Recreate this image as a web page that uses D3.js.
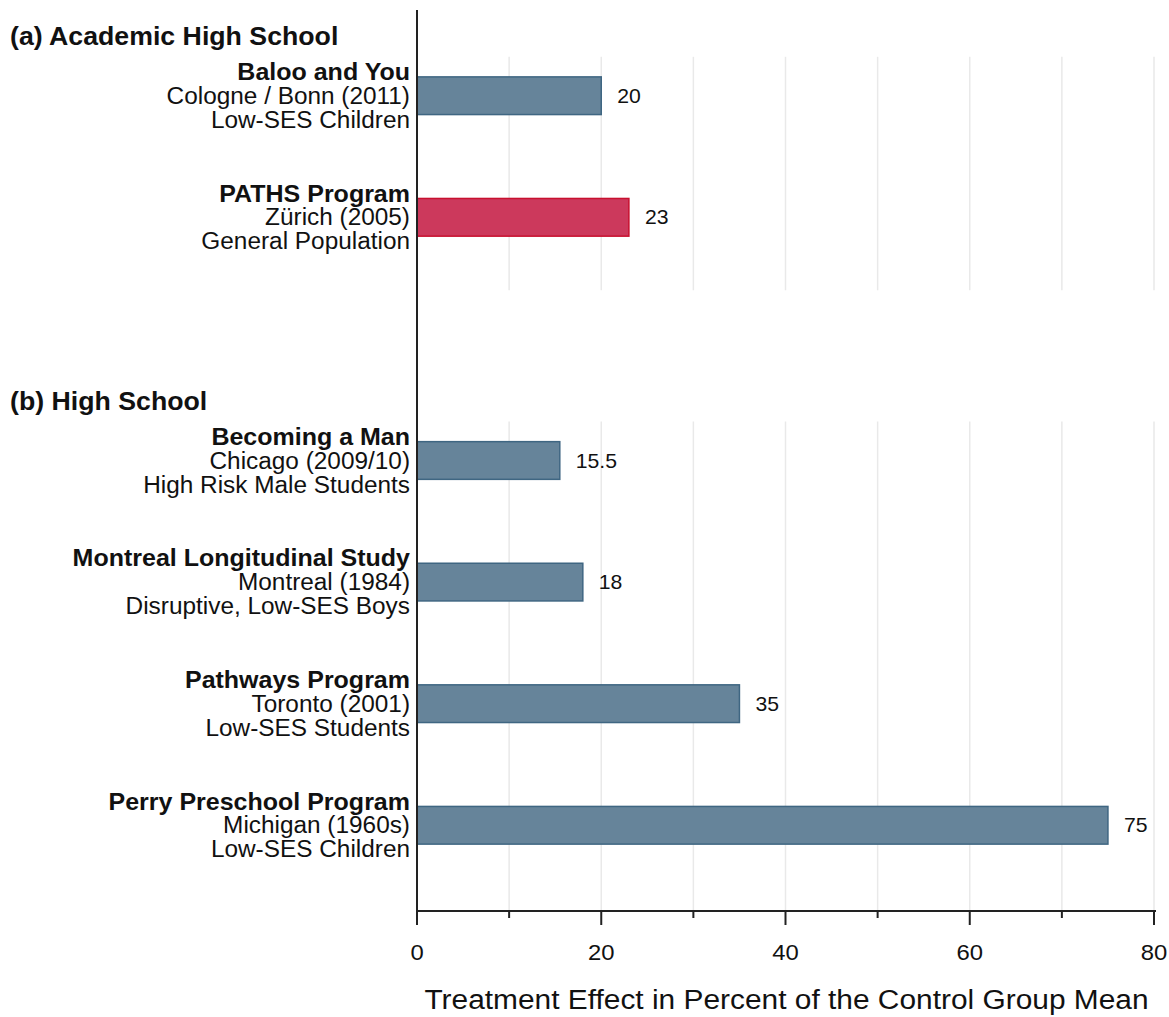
<!DOCTYPE html>
<html>
<head>
<meta charset="utf-8">
<script src="https://cdn.jsdelivr.net/npm/d3@7"></script>
<style>
  body { margin: 0; background: #fff; }
  text { font-family: "Liberation Sans", Arial, sans-serif; fill: #111; }
  .grid { stroke: #e9e9e9; stroke-width: 1.5; }
  .axisline { stroke: #222; stroke-width: 2; }
</style>
</head>
<body>
<div id="chart"></div>
<script>
// chart data
const programs = ["Baloo and You", "PATHS Program", "Becoming a Man",
    "Montreal Longitudinal Study", "Pathways Program", "Perry Preschool Program"]
const places = ["Cologne / Bonn (2011)", "Zürich (2005)", "Chicago (2009/10)",
    "Montreal (1984)", "Toronto (2001)", "Michigan (1960s)"]
const groups = ["Low-SES Children", "General Population", "High Risk Male Students",
    "Disruptive, Low-SES Boys", "Low-SES Students", "Low-SES Children"]
const effects = [20, 23, 15.5, 18, 35, 75]
const sectionOf = ["a", "a", "b", "b", "b", "b"]
const sectionTitles = {a: "(a) Academic High School", b: "(b) High School"}
const majorTicks = [0, 20, 40, 60, 80]
const minorTicks = [10, 30, 50, 70]
const gridTicks = [10, 20, 30, 40, 50, 60, 70, 80]
const highlighted = "PATHS Program"
const xTitle = "Treatment Effect in Percent of the Control Group Mean"

const W = 1169, H = 1017
const SX = 1.06   // the original glyphs are drawn a little wide
const plotTop = 10, plotBottom = 911, plotLeft = 417, plotRight = 1154

let svg = d3.select("#chart").append("svg")
    .attr("width", W)
    .attr("height", H)

// rows: programs with one empty slot between the two sections
let rows = []
programs.forEach((p, i) => {
    if (i > 0 && sectionOf[i] !== sectionOf[i - 1]) rows.push("__gap" + i)
    rows.push(p)
})

let x = d3.scaleLinear().domain([0, 80]).range([plotLeft, plotRight])
let y = d3.scalePoint().domain(rows).range([plotTop, plotBottom]).padding(0.705)
let step = y.step()
let barH = step * 0.31

function wideText(sel, tx, ty) {
    return sel.attr("transform", "translate(" + tx + "," + ty + ") scale(" + SX + ",1)")
}

// gridlines per section
let sections = Object.keys(sectionTitles)
sections.forEach((s, si) => {
    let members = programs.filter((p, i) => sectionOf[i] === s)
    let y0 = y(members[0]) - step * 0.32
    let y1 = si === sections.length - 1 ? plotBottom : y(members[members.length - 1]) + step * 0.6
    svg.selectAll("line.grid" + s)
        .data(gridTicks)
        .enter()
        .append("line")
        .attr("class", "grid")
        .attr("x1", d => x(d)).attr("x2", d => x(d))
        .attr("y1", y0).attr("y2", y1)

    wideText(svg.append("text"), 10, y(members[0]) - step * 0.49)
        .attr("dy", "0.35em")
        .attr("font-size", 25.2)
        .attr("font-weight", "bold")
        .text(sectionTitles[s])
})

let data = programs.map((p, i) => ({
    program: p, place: places[i], group: groups[i], value: effects[i]
}))

// bars
svg.selectAll("rect.bar")
    .data(data)
    .enter()
    .append("rect")
    .attr("class", "bar")
    .attr("x", x(0))
    .attr("y", d => y(d.program) - barH / 2)
    .attr("width", d => x(d.value) - x(0))
    .attr("height", barH)
    .attr("fill", d => d.program === highlighted ? "#cc395c" : "#66849a")
    .attr("stroke", d => d.program === highlighted ? "#c8102e" : "#3f6682")
    .attr("stroke-width", 1.5)

// value labels
svg.selectAll("text.val")
    .data(data)
    .enter()
    .append("text")
    .attr("class", "val")
    .each(function(d) {
        wideText(d3.select(this), x(d.value) + 16, y(d.program))
    })
    .attr("dy", "0.35em")
    .attr("font-size", 20)
    .text(d => d.value)

// category labels, three lines each
let lab = svg.selectAll("g.lab")
    .data(data)
    .enter()
    .append("g")
    .attr("class", "lab")
lab.each(function(d) {
    let g = d3.select(this)
    let lines = [[d.program, -24, "bold", 23.6], [d.place, 0, "normal", 23], [d.group, 24, "normal", 23]]
    lines.forEach(l => {
        wideText(g.append("text"), plotLeft - 7, y(d.program) + l[1])
            .attr("dy", "0.35em")
            .attr("text-anchor", "end")
            .attr("font-size", l[3])
            .attr("font-weight", l[2])
            .text(l[0])
    })
})

// axes
svg.append("line").attr("class", "axisline")
    .attr("x1", plotLeft).attr("x2", plotLeft).attr("y1", plotTop).attr("y2", plotBottom)
svg.append("line").attr("class", "axisline")
    .attr("x1", plotLeft - 1).attr("x2", plotRight + 2).attr("y1", plotBottom).attr("y2", plotBottom)

svg.selectAll("line.major")
    .data(majorTicks)
    .enter()
    .append("line")
    .attr("class", "axisline")
    .attr("x1", d => x(d)).attr("x2", d => x(d))
    .attr("y1", plotBottom).attr("y2", plotBottom + 14)

svg.selectAll("line.minor")
    .data(minorTicks)
    .enter()
    .append("line")
    .attr("class", "axisline")
    .attr("x1", d => x(d)).attr("x2", d => x(d))
    .attr("y1", plotBottom).attr("y2", plotBottom + 7)

svg.selectAll("text.tick")
    .data(majorTicks)
    .enter()
    .append("text")
    .attr("class", "tick")
    .each(function(d) {
        wideText(d3.select(this), x(d), 952)
    })
    .attr("dy", "0.35em")
    .attr("text-anchor", "middle")
    .attr("font-size", 22.5)
    .text(d => d)

wideText(svg.append("text"), (plotLeft + plotRight) / 2 + 1, 999)
    .attr("dy", "0.35em")
    .attr("text-anchor", "middle")
    .attr("font-size", 28.2)
    .text(xTitle)
</script>
</body>
</html>
